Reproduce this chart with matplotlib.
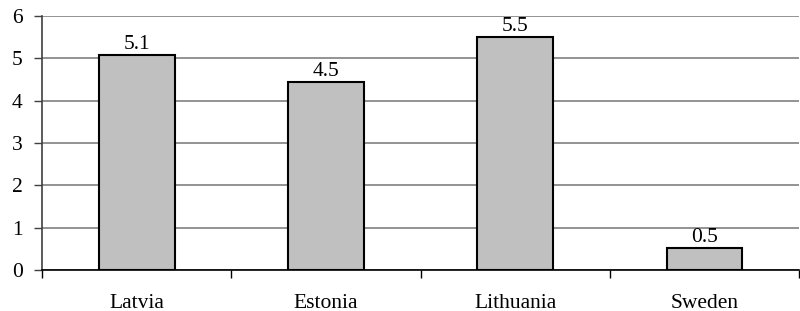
import matplotlib
matplotlib.use("Agg")
import matplotlib.pyplot as plt
import numpy as np

categories = ["Latvia", "Estonia", "Lithuania", "Sweden"]
values = [5.08, 4.45, 5.5, 0.52]
value_labels = ["5.1", "4.5", "5.5", "0.5"]
yticks = [0, 1, 2, 3, 4, 5, 6]

plt.rcParams['font.family'] = ['Liberation Serif', 'DejaVu Serif']
FS = 15.5

fig = plt.figure(figsize=(8, 3.11), dpi=100)
ax = fig.add_axes([0.0525, 0.132, 0.9465, 0.8166])

x = np.arange(len(categories))
ax.bar(x, values, width=0.4, color="#c0c0c0", edgecolor="black", linewidth=1.5, zorder=3)
for xi, v, lab in zip(x, values, value_labels):
    ax.text(xi, v + 0.02, lab, ha="center", va="bottom", fontsize=FS, zorder=4)

ax.set_xlim(-0.5, len(categories) - 0.5)
ax.set_ylim(0, 6)
ax.set_yticks(yticks)
ax.set_yticklabels([str(t) for t in yticks], fontsize=FS)
ax.yaxis.grid(True, color="#808080", linewidth=1.2, zorder=0)

ax.set_xticks(x)
ax.set_xticklabels(categories, fontsize=FS)
ax.tick_params(axis="x", length=0, pad=17)
ax.set_xticks(np.arange(-0.5, len(categories) - 0.5 + 0.01, 1.0), minor=True)
ax.tick_params(axis="x", which="minor", length=6, width=1, color="black", direction="out")
ax.tick_params(axis="y", length=6, width=1, color="#404040", pad=8)

for s in ["top", "right"]:
    ax.spines[s].set_visible(False)
ax.spines["left"].set_color("#404040")
ax.spines["left"].set_linewidth(1.2)
ax.spines["bottom"].set_color("black")
ax.spines["bottom"].set_linewidth(1.2)
ax.spines["bottom"].set_zorder(5)

fig.savefig("out.png", dpi=100)
